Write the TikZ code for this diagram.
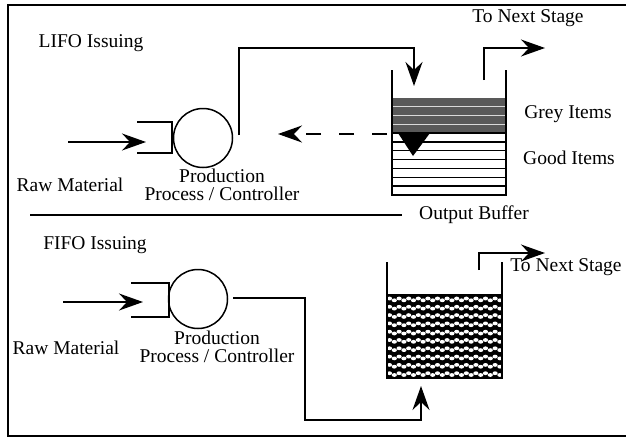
\documentclass[tikz,border=0pt]{standalone}
\usepackage{fontspec}
\setmainfont{Liberation Serif}
\usetikzlibrary{arrows.meta}
\begin{document}
\begin{tikzpicture}[x=1pt,y=-1pt,
  lbl/.style={font=\fontsize{19.5}{18}\selectfont, inner sep=0pt, align=center},
  wire/.style={line width=1.5pt},
  head/.style={-{Stealth[length=24pt,width=17pt,inset=8pt]}},
  flow/.style={wire,head},
  proc/.style={circle, draw, line width=1.5pt, minimum size=59pt, inner sep=0pt}]
\useasboundingbox (0,0) rectangle (626,437);
% outer frame (open to the right)
\draw[line width=1.2pt] (640,5) -- (8,5) -- (8,436) -- (640,436);

% ---------------- LIFO section ----------------
\node[lbl] (lifo) at (91,43) {LIFO Issuing};
\node[lbl] (raw1) at (70,185) {Raw Material};
\node[proc] (proc1) at (203,138) {};
\node[lbl] (plabel1) at (222,185) {Production\\Process / Controller};
\coordinate (in1a) at (68,142);
\coordinate (in1b) at (146,142);
\draw[flow] (in1a) -- (in1b);
\coordinate (br1a) at (137,122);
\coordinate (br1b) at (172,122);
\coordinate (br1c) at (172,153);
\coordinate (br1d) at (137,153);
\draw[wire] (br1a) -- (br1b) -- (br1c) -- (br1d);

% output buffer (LIFO)
\coordinate (b1tl) at (392,70);
\coordinate (b1bl) at (392,195);
\coordinate (b1br) at (506,195);
\coordinate (b1tr) at (506,70);
\fill[black!65] (392,98) rectangle (506,133);
\foreach \y in {106.75,115.5,124.25}
  \draw[white!85!black, line width=0.9pt] (392,\y) -- (506,\y);
\foreach \k in {1,...,6}
  \draw[wire] (392,133+\k*8.86) -- (506,133+\k*8.86);
\draw[wire] (392,133) -- (506,133);
\draw[wire] (b1tl) -- (b1bl) -- (b1br) -- (b1tr);
\coordinate (tri1) at (398,133);
\coordinate (tri2) at (430,133);
\coordinate (tri3) at (413,156);
\fill (tri1) -- (tri2) -- (tri3) -- cycle;

% feed into buffer
\coordinate (f1a) at (239,135);
\coordinate (f1b) at (239,48);
\coordinate (f1c) at (414,48);
\coordinate (f1d) at (414,86);
\draw[flow] (f1a) -- (f1b) -- (f1c) -- (f1d);
% issue to next stage
\coordinate (o1a) at (484,80);
\coordinate (o1b) at (484,48);
\coordinate (o1c) at (545,48);
\draw[flow] (o1a) -- (o1b) -- (o1c);
% dashed return
\coordinate (d1a) at (387,134);
\coordinate (d1b) at (278,134);
\draw[wire, dash pattern=on 15pt off 18pt, head] (d1a) -- (d1b);

\node[lbl] (next1) at (528,18) {To Next Stage};
\node[lbl] (grey) at (568,114) {Grey Items};
\node[lbl] (good) at (569,158) {Good Items};

% separator
\coordinate (s1) at (30,215);
\coordinate (s2) at (402,215);
\draw[line width=1.2pt] (s1) -- (s2);
\node[lbl] (obuf) at (474,215) {Output Buffer};

% ---------------- FIFO section ----------------
\node[lbl] (fifo) at (95,245) {FIFO Issuing};
\node[lbl] (raw2) at (66,348) {Raw Material};
\node[proc] (proc2) at (198,299) {};
\node[lbl] (plabel2) at (217,347) {Production\\Process / Controller};
\coordinate (in2a) at (63,302);
\coordinate (in2b) at (143,302);
\draw[flow] (in2a) -- (in2b);
\coordinate (br2a) at (131,283);
\coordinate (br2b) at (169,283);
\coordinate (br2c) at (169,317);
\coordinate (br2d) at (131,317);
\draw[wire] (br2a) -- (br2b) -- (br2c) -- (br2d);

% output buffer (FIFO), patterned strips
\begin{scope}
  \clip (387,295) rectangle (502,378);
  \fill (387,295) rectangle (502,378);
  \foreach \s in {0,...,9}{
    \foreach \i in {0,...,23}{
      \pgfmathsetmacro{\yy}{299.4+\s*8.3+mod(\i,2)*1.8-0.9}
      \fill[white] (389.5+\i*4.8,\yy) ellipse (2.6pt and 1.9pt);
    }
  }
\end{scope}
\coordinate (b2tl) at (387,262);
\coordinate (b2bl) at (387,378);
\coordinate (b2br) at (502,378);
\coordinate (b2tr) at (502,262);
\draw[wire] (387,295) -- (502,295);
\draw[wire] (b2tl) -- (b2bl) -- (b2br) -- (b2tr);

\coordinate (f2a) at (233,298);
\coordinate (f2b) at (305,298);
\coordinate (f2c) at (305,420);
\coordinate (f2d) at (421,420);
\coordinate (f2e) at (421,386);
\draw[flow] (f2a) -- (f2b) -- (f2c) -- (f2d) -- (f2e);
\coordinate (o2a) at (479,270);
\coordinate (o2b) at (479,253);
\coordinate (o2c) at (545,253);
\draw[flow] (o2a) -- (o2b) -- (o2c);
\node[lbl] (next2) at (566,267) {To Next Stage};
\end{tikzpicture}
\end{document}
